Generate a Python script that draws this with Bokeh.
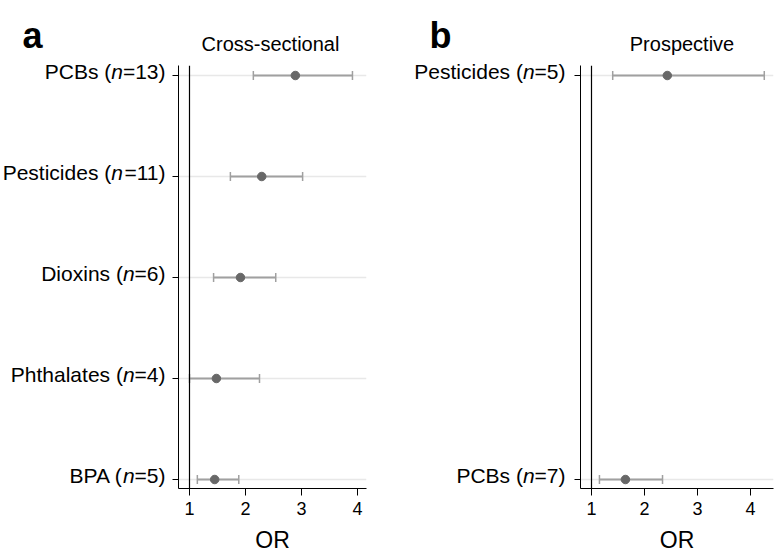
from bokeh.plotting import figure
from bokeh.layouts import row, column
from bokeh.models import (ColumnDataSource, Span, FixedTicker, Whisker, TeeHead,
                          Range1d)
from bokeh.core.properties import value
from bokeh.embed import file_html
from bokeh.resources import INLINE

FONT = "Liberation Sans"

# ---- data: panel a (cross-sectional) ----
a_names = ["PCBs", "Pesticides", "Dioxins", "Phthalates", "BPA"]
a_n = [13, 11, 6, 4, 5]
a_or = [2.89, 2.29, 1.91, 1.48, 1.45]
a_lo = [2.14, 1.73, 1.43, 1.00, 1.14]
a_hi = [3.91, 3.02, 2.54, 2.25, 1.88]

# ---- data: panel b (prospective) ----
b_names = ["Pesticides", "PCBs"]
b_n = [5, 7]
b_or = [2.43, 1.64]
b_lo = [1.40, 1.15]
b_hi = [4.26, 2.34]

x_ticks = [1, 2, 3, 4]

# Arial / Liberation Sans advance widths (per 1000 em)
W = {" ": 278, "(": 333, ")": 333, "=": 584, "A": 667, "B": 667, "C": 722,
     "D": 722, "P": 667, "a": 556, "c": 500, "d": 556, "e": 556, "h": 556,
     "i": 222, "l": 222, "n": 556, "o": 556, "s": 500, "t": 278, "x": 500}
for dgt in "0123456789":
    W[dgt] = 556


def tw(s, fs):
    return sum(W.get(ch, 556) for ch in s) * fs / 1000.0


HEAD_H = 65
H = 490
BOT = 67
FRAME_H = H - BOT
GAP_TOP, GAP_BOT = 10, 9
LBL_FS = 21
LBL_DY = -4
MIN_LEFT = 12


def make_panel(letter, title, names, ns, ors, los, his, lab_w, lab_dx,
               letter_dx, width, min_right, px_per_unit, title_dx):
    k = len(names)
    ys = list(range(k - 1, -1, -1))
    u = (k - 1) / (FRAME_H - GAP_TOP - GAP_BOT)
    y0, y1 = -GAP_BOT * u, (k - 1) + GAP_TOP * u
    frame_w = width - MIN_LEFT - min_right
    x_start = 1 - 11.0 / px_per_unit
    x_end = x_start + frame_w / px_per_unit

    # ---------- tall label column (includes the header strip) ----------
    ly1 = y1 + HEAD_H * u
    lab = figure(width=lab_w, height=HEAD_H + H, x_range=Range1d(0, lab_w),
                 y_range=Range1d(y0, ly1), x_axis_type=None,
                 y_axis_type=None, output_backend="svg",
                 toolbar_location=None, min_border_left=0, min_border_right=0,
                 min_border_top=0, min_border_bottom=BOT)
    lab.outline_line_color = None
    lab.grid.visible = False

    lab.text(x=[letter_dx], y=[ly1 - 35 * u], text=[letter],
             text_align="left", text_baseline="alphabetic",
             text_font=value(FONT), text_font_size="36px",
             text_font_style="bold", text_color="black")

    pre = [f"{nm} (" for nm in names]
    post = [f"={n})" for n in ns]
    off_post = [lab_dx] * k
    off_it = [lab_dx - tw(s, LBL_FS) for s in post]
    off_pre = [o - tw("n", LBL_FS) for o in off_it]
    lsrc = ColumnDataSource(dict(y=ys, x1=[lab_w] * k, pre=pre, it=["n"] * k,
                                 post=post, off_post=off_post, off_it=off_it,
                                 off_pre=off_pre))
    for col, off, style in (("post", "off_post", "normal"),
                            ("it", "off_it", "italic"),
                            ("pre", "off_pre", "normal")):
        lab.text(x="x1", y="y", text=col, x_offset=off, y_offset=LBL_DY,
                 source=lsrc, text_align="right", text_baseline="middle",
                 text_font=value(FONT), text_font_size=f"{LBL_FS}px",
                 text_font_style=style, text_color="black")

    # ---------- header strip above the panel (title) ----------
    head = figure(width=width, height=HEAD_H, x_range=Range1d(x_start, x_end),
                  y_range=Range1d(0, HEAD_H), x_axis_type=None,
                  y_axis_type=None, output_backend="svg",
                  toolbar_location=None, min_border_left=MIN_LEFT,
                  min_border_right=min_right, min_border_top=0,
                  min_border_bottom=0)
    head.outline_line_color = None
    head.grid.visible = False
    head.text(x=[(x_start + x_end) / 2 + title_dx / px_per_unit],
              y=[HEAD_H - 43], text=[title], text_align="center",
              text_baseline="middle", text_font=value(FONT),
              text_font_size="20px", text_color="black")

    # ---------- plot panel ----------
    p = figure(width=width, height=H, x_range=Range1d(x_start, x_end),
               y_range=Range1d(y0, y1), output_backend="svg",
               toolbar_location=None,
               min_border_left=MIN_LEFT, min_border_right=min_right,
               min_border_top=0, min_border_bottom=BOT)
    p.outline_line_color = None

    p.xgrid.visible = False
    p.ygrid.ticker = FixedTicker(ticks=ys)
    p.ygrid.grid_line_color = "#e8e8e8"
    p.ygrid.grid_line_width = 1.5

    xa = p.xaxis[0]
    xa.ticker = FixedTicker(ticks=x_ticks)
    xa.axis_line_color = "black"
    xa.major_tick_line_color = "black"
    xa.major_tick_out = 7
    xa.major_tick_in = 0
    xa.minor_tick_line_color = None
    xa.major_label_text_font = FONT
    xa.major_label_text_font_size = "18px"
    xa.major_label_text_color = "black"
    xa.major_label_standoff = 6
    xa.axis_label = "OR"
    xa.axis_label_text_font = FONT
    xa.axis_label_text_font_size = "23px"
    xa.axis_label_text_font_style = "normal"
    xa.axis_label_text_color = "black"
    xa.axis_label_standoff = 9

    ya = p.yaxis[0]
    ya.ticker = FixedTicker(ticks=ys)
    ya.major_label_overrides = {y: "" for y in ys}
    ya.major_label_standoff = 0
    ya.axis_line_color = "black"
    ya.major_tick_line_color = "black"
    ya.major_tick_out = 6
    ya.major_tick_in = 0
    ya.minor_tick_line_color = None

    p.add_layout(Span(location=1, dimension="height", line_color="black",
                      line_width=1.2))

    src = ColumnDataSource(dict(y=ys, orv=ors, lo=los, hi=his))
    wc = "#a0a0a0"
    p.add_layout(Whisker(base="y", lower="lo", upper="hi", dimension="width",
                         source=src, line_color=wc, line_width=1.8,
                         upper_head=TeeHead(size=9, line_color=wc, line_width=1.5),
                         lower_head=TeeHead(size=9, line_color=wc, line_width=1.5)))
    p.scatter(x="orv", y="y", size=8.5, fill_color="#686868",
              line_color="#686868", source=src)
    return lab, column(head, p)


la, pa = make_panel("a", "Cross-sectional", a_names, a_n, a_or, a_lo, a_hi,
                    lab_w=166, lab_dx=-1, letter_dx=22, width=226,
                    min_right=26, px_per_unit=56, title_dx=-2)
lb, pb = make_panel("b", "Prospective", b_names, b_n, b_or, b_lo, b_hi,
                    lab_w=176, lab_dx=-3, letter_dx=37, width=208,
                    min_right=3, px_per_unit=53, title_dx=5)

layout = row(la, pa, lb, pb)
open("out.html", "w").write(file_html(layout, INLINE))
